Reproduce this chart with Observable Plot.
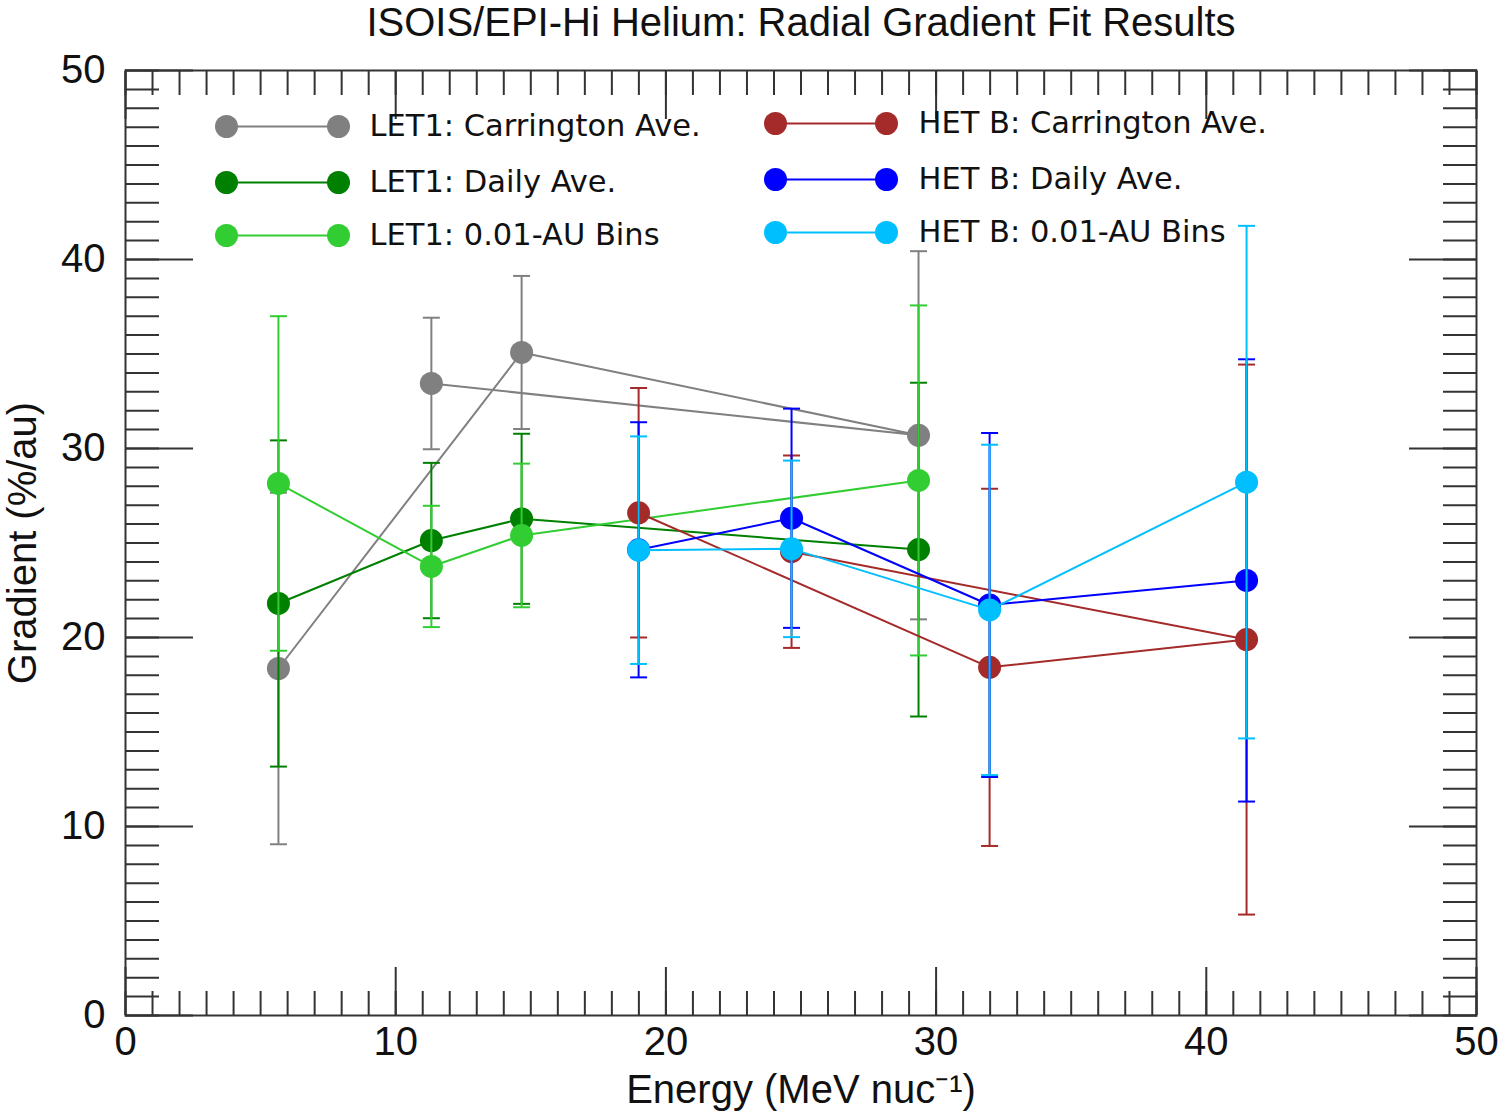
<!DOCTYPE html>
<html>
<head>
<meta charset="utf-8">
<script src="https://cdn.jsdelivr.net/npm/d3@7"></script>
<script src="https://cdn.jsdelivr.net/npm/@observablehq/plot@0.6"></script>
<style>
  html, body { margin: 0; padding: 0; background: #fff; }
</style>
</head>
<body>
<div id="chart"></div>
<script>
// ---- Data ----
const titleText = "ISOIS/EPI-Hi Helium: Radial Gradient Fit Results";
const xLabelText = "Energy (MeV nuc\u207B\u00B9)";
const yLabelText = "Gradient (%/au)";

const xMajorTicks = [0, 10, 20, 30, 40, 50];
const yMajorTicks = [0, 10, 20, 30, 40, 50];
const xMinorTicks = d3.range(0, 51, 1);
const yMinorTicks = d3.range(0, 51, 1);

// LET1: Carrington Ave. (points in the order they are joined)
const let1CarrEnergy = [5.66, 14.66, 29.35, 11.32];
const let1CarrGrad   = [18.36, 35.08, 30.70, 33.44];
const let1CarrErr    = [9.30, 4.05, 9.74, 3.48];

// LET1: Daily Ave.
const let1DailyEnergy = [5.66, 11.32, 14.66, 29.35];
const let1DailyGrad   = [21.80, 25.13, 26.28, 24.65];
const let1DailyErr    = [8.63, 4.11, 4.50, 8.83];

// LET1: 0.01-AU Bins
const let1BinsEnergy = [5.66, 11.32, 14.66, 29.35];
const let1BinsGrad   = [28.15, 23.76, 25.40, 28.31];
const let1BinsErr    = [8.85, 3.21, 3.80, 9.26];

// HET B: Carrington Ave. (points in the order they are joined)
const hetCarrEnergy = [18.99, 31.98, 41.49, 24.65];
const hetCarrGrad   = [26.60, 18.42, 19.89, 24.54];
const hetCarrErr    = [6.60, 9.45, 14.55, 5.09];

// HET B: Daily Ave.
const hetDailyEnergy = [18.99, 24.65, 31.98, 41.49];
const hetDailyGrad   = [24.64, 26.31, 21.72, 23.02];
const hetDailyErr    = [6.75, 5.80, 9.10, 11.70];

// HET B: 0.01-AU Bins
const hetBinsEnergy = [18.99, 24.65, 31.98, 41.49];
const hetBinsGrad   = [24.62, 24.69, 21.46, 28.22];
const hetBinsErr    = [6.02, 4.67, 8.74, 13.56];

const seriesLabels = [
  "LET1: Carrington Ave.", "LET1: Daily Ave.", "LET1: 0.01-AU Bins",
  "HET B: Carrington Ave.", "HET B: Daily Ave.", "HET B: 0.01-AU Bins"
];
const seriesColors = ["#808080", "#008000", "#32cd32", "#a52a2a", "#0000ff", "#00bfff"];

// ---- Build tables ----
const seriesInputs = [
  [let1CarrEnergy, let1CarrGrad, let1CarrErr],
  [let1DailyEnergy, let1DailyGrad, let1DailyErr],
  [let1BinsEnergy, let1BinsGrad, let1BinsErr],
  [hetCarrEnergy, hetCarrGrad, hetCarrErr],
  [hetDailyEnergy, hetDailyGrad, hetDailyErr],
  [hetBinsEnergy, hetBinsGrad, hetBinsErr]
];
const series = seriesInputs.map(([E, G, S], k) => ({
  label: seriesLabels[k],
  color: seriesColors[k],
  rows: E.map((e, i) => ({energy: e, grad: G[i], lo: G[i] - S[i], hi: G[i] + S[i]}))
}));

// horizontal-line symbol (used for error-bar caps and legend lines)
const hLine = {
  draw(context, size) {
    const r = Math.sqrt(size / Math.PI);
    context.moveTo(-r, 0);
    context.lineTo(r, 0);
  }
};

// ---- Styling ----
const axisFont = "Liberation Sans, Arial, sans-serif";
const legendFont = "DejaVu Sans, Verdana, sans-serif";
const tickColor = "#333";
const markerR = 11.5;

const dataMarks = series.flatMap(s => [
  Plot.line(s.rows, {x: "energy", y: "grad", stroke: s.color, strokeWidth: 2}),
  Plot.ruleX(s.rows, {x: "energy", y1: "lo", y2: "hi", stroke: s.color, strokeWidth: 2}),
  Plot.dot(s.rows, {x: "energy", y: "hi", symbol: hLine, r: 8.5, stroke: s.color, strokeWidth: 2, fill: "none"}),
  Plot.dot(s.rows, {x: "energy", y: "lo", symbol: hLine, r: 8.5, stroke: s.color, strokeWidth: 2, fill: "none"}),
  Plot.dot(s.rows, {x: "energy", y: "grad", r: markerR, fill: s.color, stroke: "none"})
]);

// legend layout (offsets from the frame's top-left corner)
const legendCols = [{d1: 101, d2: 213, t: 244}, {d1: 650, d2: 761, t: 793}];
const legendRows = [[56, 112, 165], [53, 109, 162]];
const legendMarks = series.flatMap((s, k) => {
  const c = Math.floor(k / 3), r = k % 3;
  const col = legendCols[c], dy = legendRows[c][r];
  const item = [s];
  return [
    Plot.dot(item, {frameAnchor: "top-left", dx: (col.d1 + col.d2) / 2, dy, symbol: hLine, r: (col.d2 - col.d1) / 2, stroke: s.color, strokeWidth: 2, fill: "none"}),
    Plot.dot(item, {frameAnchor: "top-left", dx: col.d1, dy, r: markerR, fill: s.color, stroke: "none"}),
    Plot.dot(item, {frameAnchor: "top-left", dx: col.d2, dy, r: markerR, fill: s.color, stroke: "none"}),
    Plot.text(item, {frameAnchor: "top-left", dx: col.t, dy, text: "label", textAnchor: "start", lineAnchor: "middle", fontSize: 30.5, fontFamily: legendFont, fill: "#111"})
  ];
});

const empty = () => "";
const axisMarks = [
  // inward ticks, bottom
  Plot.axisX({anchor: "bottom", ticks: xMinorTicks, tickSize: 24, dy: -24, tickFormat: empty, label: null, stroke: tickColor, strokeWidth: 2}),
  Plot.axisX({anchor: "bottom", ticks: xMajorTicks, tickSize: 48, dy: -48, tickFormat: empty, label: null, stroke: tickColor, strokeWidth: 2}),
  // inward ticks, top
  Plot.axisX({anchor: "top", ticks: xMinorTicks, tickSize: 24, dy: 24, tickFormat: empty, label: null, stroke: tickColor, strokeWidth: 2}),
  Plot.axisX({anchor: "top", ticks: xMajorTicks, tickSize: 48, dy: 48, tickFormat: empty, label: null, stroke: tickColor, strokeWidth: 2}),
  // inward ticks, left
  Plot.axisY({anchor: "left", ticks: yMinorTicks, tickSize: 34, dx: 34, tickFormat: empty, label: null, stroke: tickColor, strokeWidth: 2}),
  Plot.axisY({anchor: "left", ticks: yMajorTicks, tickSize: 68, dx: 68, tickFormat: empty, label: null, stroke: tickColor, strokeWidth: 2}),
  // inward ticks, right
  Plot.axisY({anchor: "right", ticks: yMinorTicks, tickSize: 34, dx: -34, tickFormat: empty, label: null, stroke: tickColor, strokeWidth: 2}),
  Plot.axisY({anchor: "right", ticks: yMajorTicks, tickSize: 68, dx: -68, tickFormat: empty, label: null, stroke: tickColor, strokeWidth: 2}),
  // tick labels
  Plot.axisX({anchor: "bottom", ticks: xMajorTicks, tickSize: 0, tickPadding: 11, tickFormat: d3.format("d"), label: null, fontSize: 40, fontFamily: axisFont, fill: "#111"}),
  Plot.axisY({anchor: "left", ticks: yMajorTicks, tickSize: 0, tickPadding: 20, tickFormat: d3.format("d"), label: null, fontSize: 40, fontFamily: axisFont, fill: "#111"}),
  Plot.frame({stroke: tickColor, strokeWidth: 2}),
  // titles
  Plot.text([titleText], {frameAnchor: "top", dy: -47, text: d => d, textAnchor: "middle", lineAnchor: "middle", fontSize: 40, fontFamily: axisFont, fill: "#111"}),
  Plot.text([xLabelText], {frameAnchor: "bottom", dy: 75, text: d => d, textAnchor: "middle", lineAnchor: "middle", fontSize: 40, fontFamily: axisFont, fill: "#111"}),
  Plot.text([yLabelText], {frameAnchor: "left", dx: -102, rotate: -90, text: d => d, textAnchor: "middle", lineAnchor: "middle", fontSize: 40, fontFamily: axisFont, fill: "#111"})
];

const chart = Plot.plot({
  width: 1500,
  height: 1114,
  marginLeft: 125,
  marginRight: 24,
  marginTop: 70,
  marginBottom: 99,
  x: {domain: [0, 50], axis: null},
  y: {domain: [0, 50], axis: null},
  style: {background: "#fff", fontFamily: axisFont},
  marks: [...axisMarks, ...dataMarks, ...legendMarks]
});
document.getElementById("chart").appendChild(chart);
</script>
</body>
</html>
